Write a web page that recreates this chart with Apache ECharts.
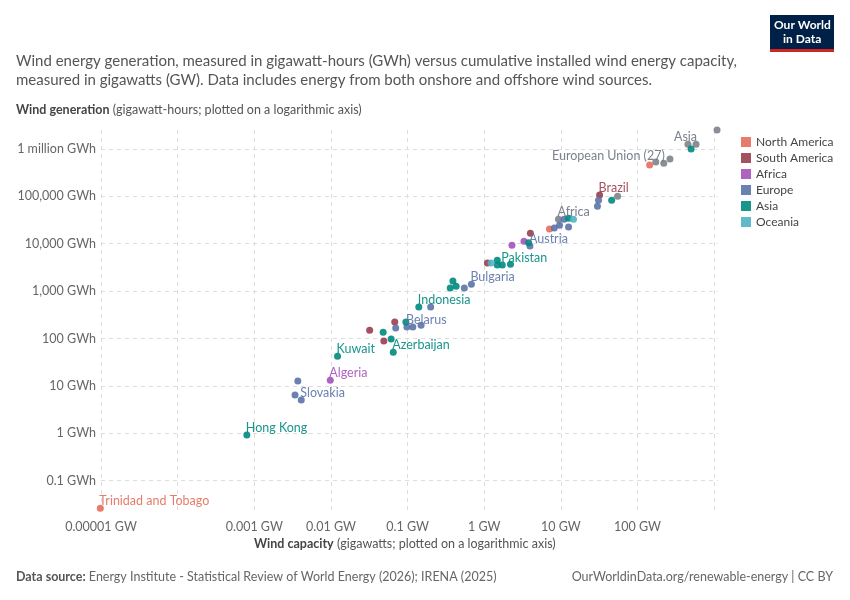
<!DOCTYPE html>
<html><head><meta charset="utf-8">
<script src="https://cdn.jsdelivr.net/npm/echarts@6/dist/echarts.min.js"></script>
<style>html,body{margin:0;background:#fff}#c{width:850px;height:600px}</style>
</head><body><div id="c"></div>
<script>
// [capacity GW, generation GWh, label]
const northAmerica = [[0.0000098,0.026,'Trinidad and Tobago'],[144,460000,''],[7.1,20400,'']];
const southAmerica = [[32,107000,'Brazil'],[4.0,16700,''],[1.1,3900,''],[0.068,222,''],[0.049,89,''],[0.032,150,'']];
const africa = [[0.0098,13.2,'Algeria'],[3.3,11300,''],[2.3,9300,'']];
const europe = [[31,83000,''],[30,62000,''],[11,33000,''],[9.6,24600,''],[8.2,21400,''],[12.6,22400,''],[3.95,8900,'Austria'],
  [0.68,1400,'Bulgaria'],[0.55,1160,''],[0.20,460,''],[0.15,190,''],[0.117,174,''],[0.098,174,'Belarus'],[0.07,166,''],
  [0.0037,12.6,''],[0.0034,6.4,''],[0.0041,5.0,'Slovakia']];
const asia = [[500,1000000,''],[46,83000,''],[12.6,34500,''],[3.8,10500,''],[1.48,4500,''],[1.48,3540,''],[1.72,3540,'Pakistan'],
  [2.2,3700,''],[0.43,1270,''],[0.39,1630,''],[0.36,1160,''],[0.14,460,'Indonesia'],[0.095,222,''],[0.065,51,'Azerbaijan'],
  [0.061,97,''],[0.048,136,''],[0.0122,42,'Kuwait'],[0.0008,0.92,'Hong Kong']];
const oceania = [[14.6,33000,''],[1.23,3900,'']];
const aggregates = [[1090,2500000,''],[580,1260000,'Asia'],[455,1260000,''],[220,500000,'European Union (27)'],[173,530000,''],[265,610000,''],[55,100000,''],[9.3,33000,'Africa']];

const xTicks = [-5,-4,-3,-2,-1,0,1,2,3];
const xLabels = {'-5':'0.00001 GW','-3':'0.001 GW','-2':'0.01 GW','-1':'0.1 GW','0':'1 GW','1':'10 GW','2':'100 GW'};
const yTicks = [-1,0,1,2,3,4,5,6];
const yLabels = {'-1':'0.1 GWh','0':'1 GWh','1':'10 GWh','2':'100 GWh','3':'1,000 GWh','4':'10,000 GWh','5':'100,000 GWh','6':'1 million GWh'};

const colors = {na:'#E56E5A',sa:'#9A3E4E',af:'#A652BA',eu:'#5B73A6',as:'#00897F',oc:'#4FB3C4',ag:'#7D8289'};
function mk(name, arr, col, textCol){
  return {name, type:'scatter', symbolSize:7, clip:false, itemStyle:{color:col, opacity:0.9},
    data: arr.map(d=>{
      const left = d[2]==='Asia'||d[2]==='European Union (27)';
      return {value:[Math.log10(d[0]),Math.log10(d[1])], name:d[2],
        label:{show:!!d[2], formatter:d[2], position:'top', align:left?'right':'left', offset:[left?1:-1,8],
          color:textCol||col, fontSize:12.5, fontFamily:'Lato'}};
    })};
}
const chart = echarts.init(document.getElementById('c'));
chart.setOption({
  animation:false,
  textStyle:{fontFamily:'Lato'},
  grid:{left:101,right:132,top:130,bottom:90},
  xAxis:{type:'value',min:-5,max:3.05,
    axisLine:{show:false},axisTick:{show:false,customValues:xTicks},
    axisLabel:{customValues:[-5,-3,-2,-1,0,1,2],formatter:v=>xLabels[String(Math.round(v))]||'',color:'#666',fontSize:12.5,margin:10},
    splitLine:{show:true,lineStyle:{color:'#ddd',type:[4,4]}}},
  yAxis:{type:'value',min:-1.62,max:6.4,
    axisLine:{show:false},axisTick:{show:false,customValues:yTicks},
    axisLabel:{customValues:yTicks,formatter:v=>yLabels[String(Math.round(v))]||'',color:'#666',fontSize:12.5,margin:5},
    splitLine:{show:true,lineStyle:{color:'#ddd',type:[4,4]}}},
  legend:{orient:'vertical',left:736,top:131,itemWidth:10,itemHeight:10,itemGap:4,icon:'rect',
    textStyle:{color:'#444',fontSize:12},
    data:['North America','South America','Africa','Europe','Asia','Oceania']},
  series:[
    mk('Aggregates',aggregates,colors.ag,'#6b7280'),
    mk('North America',northAmerica,colors.na),
    mk('South America',southAmerica,colors.sa),
    mk('Africa',africa,colors.af),
    mk('Europe',europe,colors.eu),
    mk('Asia',asia,colors.as),
    mk('Oceania',oceania,colors.oc)
  ],
  graphic:[
    {type:'text',left:16,top:52,style:{text:'Wind energy generation, measured in gigawatt-hours (GWh) versus cumulative installed wind energy capacity,\nmeasured in gigawatts (GW). Data includes energy from both onshore and offshore wind sources.',fill:'#555',font:'15px Lato',lineHeight:19}},
    {type:'text',left:16,top:103,style:{text:'{b|Wind generation} (gigawatt-hours; plotted on a logarithmic axis)',fill:'#555',font:'12.5px Lato',rich:{b:{fontWeight:'bold',fill:'#444',fontSize:12.5,fontFamily:'Lato'}}}},
    {type:'text',left:254,top:537,style:{text:'{b|Wind capacity} (gigawatts; plotted on a logarithmic axis)',fill:'#555',font:'12.5px Lato',rich:{b:{fontWeight:'bold',fill:'#444',fontSize:12.5,fontFamily:'Lato'}}}},
    {type:'text',left:16,top:570,style:{text:'{b|Data source:} Energy Institute - Statistical Review of World Energy (2026); IRENA (2025)',fill:'#666',font:'12.5px Lato',rich:{b:{fontWeight:'bold',fill:'#555',fontSize:12.5,fontFamily:'Lato'}}}},
    {type:'text',right:17,top:570,style:{text:'OurWorldinData.org/renewable-energy | CC BY',fill:'#666',font:'12.5px Lato',align:'right'}},
    {type:'rect',left:770,top:15,shape:{width:64,height:36},style:{fill:'#002147'}},
    {type:'rect',left:770,top:49,shape:{width:64,height:3},style:{fill:'#CE261E'}},
    {type:'text',left:774,top:19,style:{text:'Our World',fill:'#fff',font:'bold 12px Lato'}},
    {type:'text',left:783,top:33,style:{text:'in Data',fill:'#fff',font:'bold 12px Lato'}}
  ]
});
</script></body></html>
